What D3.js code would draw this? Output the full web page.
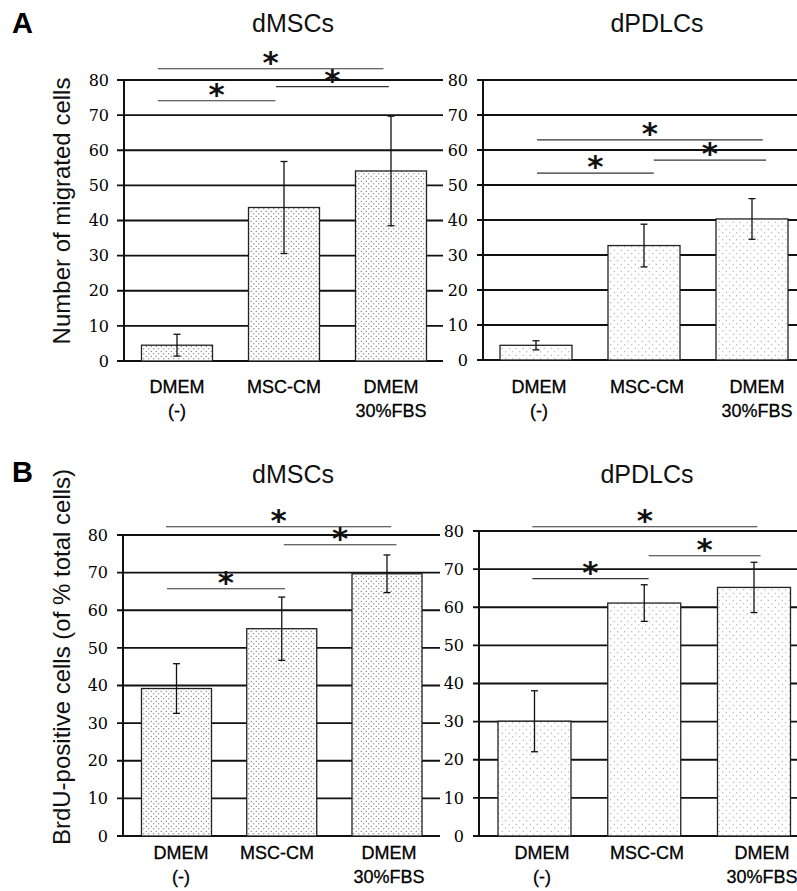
<!DOCTYPE html>
<html>
<head>
<meta charset="utf-8">
<script src="https://cdn.jsdelivr.net/npm/d3@7"></script>
<style>body{margin:0;background:#fff}</style>
</head>
<body>
<script>
// categories and tick labels
const groups = [["DMEM", "(-)"], ["MSC-CM"], ["DMEM", "30%FBS"]]
const yTicks = [0, 10, 20, 30, 40, 50, 60, 70, 80]

// A: migration
const migMSC = [4.5, 43.7, 54.1]
const migMSCErr = [3.1, 13.1, 15.6]
const migPDL = [4.2, 32.7, 40.3]
const migPDLErr = [1.3, 6.1, 5.8]

// B: BrdU
const brduMSC = [39.2, 55.1, 69.7]
const brduMSCErr = [6.6, 8.4, 5.0]
const brduPDL = [30.1, 61.1, 65.2]
const brduPDLErr = [8.0, 4.8, 6.6]

// significance lines: [from index, to index, y value]
const sigMigMSC = [[-0.18, 0.92, 74.1], [-0.18, 1.93, 83.2], [0.925, 1.98, 78.1]]
const sigMigPDL = [[0.01, 1.09, 53.4], [0.01, 2.1, 62.9], [1.09, 2.13, 57.1]]
const sigBrduMSC = [[-0.09, 1.03, 65.7], [-0.1, 2.04, 82.2], [1.02, 2.09, 77.4]]
const sigBrduPDL = [[-0.02, 1.04, 67.5], [-0.02, 2.03, 81.1], [1.04, 2.06, 73.5]]

const svg = d3.select("body").append("svg")
    .attr("width", 797)
    .attr("height", 891)

const defs = svg.append("defs")
function dotPattern(id, size, color) {
    const p = defs.append("pattern")
        .attr("id", id)
        .attr("patternUnits", "userSpaceOnUse")
        .attr("width", size).attr("height", size)
    p.append("rect").attr("width", size).attr("height", size).attr("fill", "#fff")
    p.append("circle").attr("cx", size * 0.25).attr("cy", size * 0.25).attr("r", 0.6).attr("fill", color)
    p.append("circle").attr("cx", size * 0.75).attr("cy", size * 0.75).attr("r", 0.6).attr("fill", color)
}
dotPattern("dense", 5, "#444")
dotPattern("sparse", 7, "#888")

const panels = [
    {title: "dMSCs", tx: 293, ty: 32, vals: migMSC, err: migMSCErr, sig: sigMigMSC,
     ax: 124, y0: 361, y80: 80, c0: 177, c2: 391, bw: 71, gx0: 117, gx1: 443, pat: "dense",
     xlab: [177, 284, 391], xy: 393},
    {title: "dPDLCs", tx: 657, ty: 32, vals: migPDL, err: migPDLErr, sig: sigMigPDL,
     ax: 483, y0: 360, y80: 80, c0: 536, c2: 752, bw: 72, gx0: 477, gx1: 797, pat: "sparse",
     xlab: [539, 647, 757], xy: 393},
    {title: "dMSCs", tx: 293, ty: 483, vals: brduMSC, err: brduMSCErr, sig: sigBrduMSC,
     ax: 123, y0: 836, y80: 535, c0: 176.5, c2: 387, bw: 70, gx0: 117, gx1: 440, pat: "dense",
     xlab: [181, 277, 389], xy: 859},
    {title: "dPDLCs", tx: 647, ty: 483, vals: brduPDL, err: brduPDLErr, sig: sigBrduPDL,
     ax: 479, y0: 836, y80: 531, c0: 534.5, c2: 754, bw: 73, gx0: 473, gx1: 797, pat: "sparse",
     xlab: [542, 647, 762], xy: 859}
]

panels.forEach(function(p) {
    const g = svg.append("g")
    const y = d3.scaleLinear().domain([0, 80]).range([p.y0, p.y80])
    const x = d3.scaleLinear().domain([0, 2]).range([p.c0, p.c2])

    // grid lines
    g.selectAll(".grid").data(yTicks).enter().append("line")
        .attr("x1", p.gx0).attr("x2", p.gx1)
        .attr("y1", d => y(d)).attr("y2", d => y(d))
        .attr("stroke", "#111").attr("stroke-width", 1.8)

    // axis labels
    const axis = g.append("g")
        .attr("transform", "translate(" + (p.ax - 7) + ",0)")
        .call(d3.axisLeft(y).tickValues(yTicks).tickSize(0).tickPadding(8))
    axis.select(".domain").remove()
    axis.selectAll("text")
        .style("font-family", "'DejaVu Serif', 'Liberation Serif', serif")
        .style("font-size", "16px")
        .attr("fill", "#000")

    g.append("line")
        .attr("x1", p.ax).attr("x2", p.ax)
        .attr("y1", y(80)).attr("y2", y(0))
        .attr("stroke", "#111").attr("stroke-width", 2)

    // bars
    g.selectAll(".bar").data(p.vals).enter().append("rect")
        .attr("x", (d, i) => x(i) - p.bw / 2)
        .attr("width", p.bw)
        .attr("y", d => y(d))
        .attr("height", d => y(0) - y(d))
        .attr("fill", "url(#" + p.pat + ")")
        .attr("stroke", "#222").attr("stroke-width", 1.3)

    // error bars
    p.vals.forEach(function(v, i) {
        const cx = x(i)
        const hi = y(v + p.err[i]), lo = y(v - p.err[i])
        g.append("line").attr("x1", cx).attr("x2", cx).attr("y1", hi).attr("y2", lo)
            .attr("stroke", "#111").attr("stroke-width", 1.3)
        ;[hi, lo].forEach(function(yy) {
            g.append("line").attr("x1", cx - 3.5).attr("x2", cx + 3.5).attr("y1", yy).attr("y2", yy)
                .attr("stroke", "#111").attr("stroke-width", 1.3)
        })
    })

    // significance
    p.sig.forEach(function(s) {
        g.append("line")
            .attr("x1", x(s[0])).attr("x2", x(s[1]))
            .attr("y1", y(s[2])).attr("y2", y(s[2]))
            .attr("stroke", "#333").attr("stroke-width", 1.1)
        g.append("text")
            .attr("x", (x(s[0]) + x(s[1])) / 2)
            .attr("y", y(s[2]) + 4)
            .attr("text-anchor", "middle")
            .attr("font-family", "DejaVu Sans")
            .attr("font-weight", "bold")
            .attr("font-size", "31px")
            .attr("fill", "#111")
            .text("*")
    })

    // category labels
    groups.forEach(function(lines, i) {
        lines.forEach(function(t, j) {
            g.append("text")
                .attr("x", p.xlab[i]).attr("y", p.xy + j * 24)
                .attr("text-anchor", "middle")
                .attr("font-family", "Liberation Sans")
                .attr("font-size", "18px")
                .attr("fill", "#000")
                .attr("stroke", "#000").attr("stroke-width", 0.3)
                .text(t)
        })
    })

    g.append("text")
        .attr("x", p.tx).attr("y", p.ty)
        .attr("text-anchor", "middle")
        .attr("font-family", "Liberation Sans")
        .attr("font-size", "25px")
        .attr("fill", "#111")
        .text(p.title)
})

// panel letters and y titles
svg.append("text").attr("x", 12).attr("y", 33)
    .attr("font-family", "Liberation Sans").attr("font-weight", "bold").attr("font-size", "29px")
    .text("A")
svg.append("text").attr("x", 12).attr("y", 482)
    .attr("font-family", "Liberation Sans").attr("font-weight", "bold").attr("font-size", "29px")
    .text("B")

svg.append("text")
    .attr("transform", "translate(70,211) rotate(-90)")
    .attr("text-anchor", "middle")
    .attr("font-family", "Liberation Sans").attr("font-size", "24px").attr("fill", "#111")
    .text("Number of migrated cells")
svg.append("text")
    .attr("transform", "translate(70,657) rotate(-90)")
    .attr("text-anchor", "middle")
    .attr("font-family", "Liberation Sans").attr("font-size", "24px").attr("fill", "#111")
    .text("BrdU-positive cells (of % total cells)")
</script>
</body>
</html>
